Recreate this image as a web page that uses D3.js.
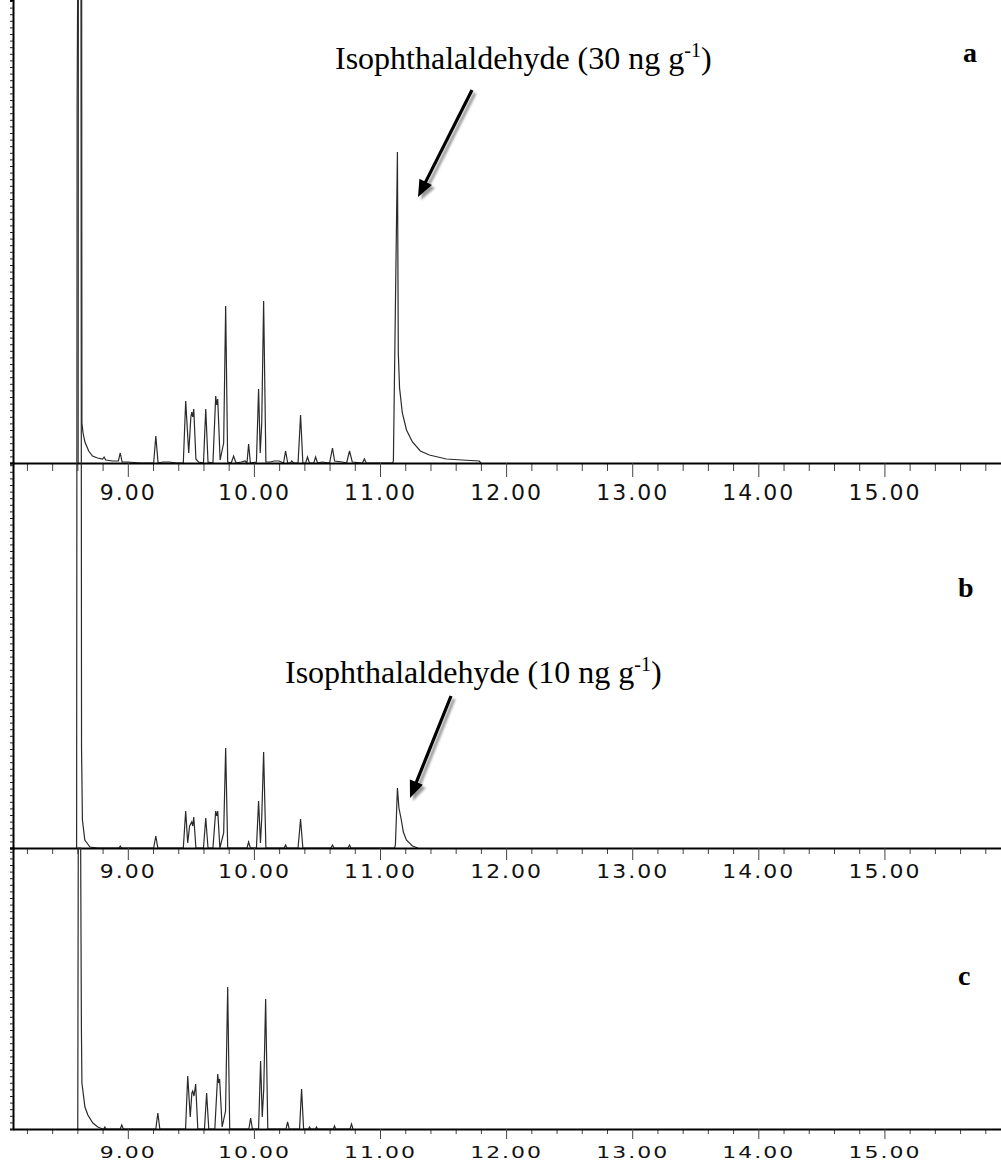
<!DOCTYPE html>
<html>
<head>
<meta charset="utf-8">
<script src="https://cdn.jsdelivr.net/npm/d3@7"></script>
<style>body{margin:0;background:#fff;}</style>
</head>
<body>
<script>
// chromatogram traces: [retention time (min), abundance (arbitrary units)]
var traceA = [[8.600,0],[8.606,0],[8.609,900],[8.632,900],[8.636,40],[8.645,30],[8.660,21],[8.690,12],[8.720,7],[8.760,5],[8.800,4],[8.812,6],[8.825,3],[8.880,2],[8.925,2],[8.940,10],[8.955,1],[9.000,1],[9.100,0],[9.205,0],[9.222,27],[9.240,0],[9.280,1],[9.330,1],[9.380,0],[9.440,0],[9.459,62],[9.483,10],[9.500,46],[9.507,51],[9.515,46],[9.523,54],[9.540,4],[9.560,1],[9.600,0],[9.618,54],[9.636,1],[9.675,0],[9.697,67],[9.705,58],[9.713,64],[9.732,3],[9.760,20],[9.776,157],[9.792,1],[9.820,0],[9.839,7],[9.858,0],[9.900,1],[9.930,2],[9.945,0],[9.958,19],[9.972,0],[10.020,1],[10.037,74],[10.050,10],[10.062,40],[10.077,162],[10.095,1],[10.130,1],[10.160,2],[10.200,2],[10.235,0],[10.251,12],[10.268,0],[10.290,0],[10.300,2],[10.315,0],[10.350,0],[10.370,48],[10.388,0],[10.410,0],[10.425,6],[10.440,0],[10.475,0],[10.489,6],[10.505,0],[10.540,1],[10.600,0],[10.623,15],[10.640,2],[10.700,1],[10.735,0],[10.758,12],[10.780,1],[10.860,0],[10.876,4],[10.890,0],[11.100,0],[11.106,2],[11.138,311],[11.145,110],[11.155,75],[11.177,50],[11.210,33],[11.257,21],[11.320,12],[11.391,8],[11.526,4],[11.650,3],[11.787,2],[11.800,0]];

var traceB = [[8.594,0],[8.598,741],[8.606,960],[8.628,960],[8.633,100],[8.640,28],[8.659,8],[8.700,1],[8.760,0],[8.930,0],[8.940,2],[8.950,0],[9.205,0],[9.222,12],[9.238,0],[9.440,0],[9.459,37],[9.475,5],[9.490,22],[9.507,26],[9.515,22],[9.523,31],[9.540,0],[9.600,0],[9.618,30],[9.636,0],[9.675,0],[9.697,37],[9.705,32],[9.713,37],[9.730,0],[9.760,15],[9.776,100],[9.792,0],[9.945,0],[9.958,6],[9.972,0],[10.020,0],[10.037,47],[10.052,5],[10.062,30],[10.077,96],[10.095,0],[10.240,0],[10.251,3],[10.262,0],[10.350,0],[10.370,29],[10.388,0],[10.610,0],[10.623,3],[10.635,0],[10.745,0],[10.758,3],[10.770,0],[11.115,0],[11.122,3],[11.138,60],[11.150,40],[11.169,28],[11.185,16],[11.209,8],[11.257,2],[11.300,0]];

var traceC = [[8.603,0],[8.607,281],[8.626,281],[8.632,100],[8.636,46],[8.660,22],[8.683,14],[8.723,6],[8.762,2],[8.800,0],[8.810,0],[8.818,2],[8.826,0],[8.940,0],[8.952,4],[8.964,0],[9.222,0],[9.238,16],[9.254,0],[9.458,0],[9.475,53],[9.495,12],[9.508,36],[9.515,38],[9.525,33],[9.538,45],[9.555,0],[9.608,0],[9.625,36],[9.642,0],[9.690,0],[9.713,55],[9.720,46],[9.728,50],[9.748,2],[9.775,18],[9.792,142],[9.808,0],[9.960,0],[9.974,11],[9.988,0],[10.037,0],[10.053,68],[10.066,12],[10.078,40],[10.093,130],[10.110,0],[10.255,0],[10.267,7],[10.280,0],[10.362,0],[10.378,40],[10.394,0],[10.433,0],[10.441,2],[10.449,0],[10.488,0],[10.496,2],[10.504,0],[10.630,0],[10.639,3],[10.648,0],[10.762,0],[10.774,5],[10.786,0]];

var majorTicks = [9, 10, 11, 12, 13, 14, 15];
var minorTicks = d3.range(41, 80).map(function(i) { return i / 5; })
  .filter(function(v) { return Math.abs(v - Math.round(v)) > 1e-6; });
var panelNames = ["a", "b", "c"];
var noteA = "Isophthalaldehyde (30 ng g";
var noteB = "Isophthalaldehyde (10 ng g";

var W = 1001, H = 1160;
var svg = d3.select("body").append("svg")
  .attr("width", W)
  .attr("height", H);

var defs = svg.append("defs");
defs.append("filter").attr("id", "blur")
  .append("feGaussianBlur").attr("stdDeviation", 1);

var x = d3.scaleLinear().domain([8.0895, 15.9245]).range([13, 1001]);

var panels = [
  { data: traceA, base: 463, top: 0, labY: 500, k: 1, nx: 963, ny: 62, major: 14, minor: 8 },
  { data: traceB, base: 848, top: 463, labY: 878, k: 0.9, nx: 958, ny: 597, major: 12, minor: 6 },
  { data: traceC, base: 1129, top: 848, labY: 1158, k: 0.7, nx: 958, ny: 985, major: 10, minor: 5 }
];

panels.forEach(function(p, i) {
  var y = d3.scaleLinear().domain([0, p.base - p.top]).range([p.base, p.top]);

  var line = d3.line()
    .x(function(d) { return x(d[0]); })
    .y(function(d) { return y(d[1]); });

  svg.append("path")
    .datum(p.data)
    .attr("d", line)
    .attr("fill", "none")
    .attr("stroke", "#2a2a2a")
    .attr("stroke-width", 1.2);

  // left axis with small ticks
  var yl = svg.append("g").attr("transform", "translate(13,0)")
    .call(d3.axisLeft(y).tickValues(d3.range(0, p.base - p.top, 6.6)).tickSize(3).tickFormat(""));
  yl.select(".domain").attr("stroke", "#000").attr("stroke-width", 2);
  yl.selectAll(".tick line").attr("stroke", "#222");

  // minor x ticks
  var xm = svg.append("g").attr("transform", "translate(0," + p.base + ")")
    .call(d3.axisBottom(x).tickValues(minorTicks).tickSize(p.minor).tickSizeOuter(0).tickFormat(""));
  xm.select(".domain").remove();
  xm.selectAll(".tick line").attr("stroke", "#444");

  // major x ticks + labels
  var xa = svg.append("g").attr("transform", "translate(0," + p.base + ")")
    .call(d3.axisBottom(x).tickValues(majorTicks).tickSize(p.major).tickSizeOuter(0).tickFormat(d3.format(".2f")));
  xa.select(".domain").attr("stroke", "#000").attr("stroke-width", 2);
  xa.selectAll(".tick line").attr("stroke", "#444");
  xa.selectAll("text")
    .attr("font-family", "DejaVu Sans, sans-serif")
    .attr("font-size", 22)
    .attr("letter-spacing", 2)
    .attr("fill", "#111")
    .attr("dy", 0)
    .attr("y", (p.labY - p.base) / p.k)
    .attr("transform", "scale(1," + p.k + ")");

  svg.append("text")
    .attr("x", p.nx)
    .attr("y", p.ny)
    .attr("font-family", "Liberation Serif, Times New Roman, serif")
    .attr("font-weight", "bold")
    .attr("font-size", 28)
    .text(panelNames[i]);
});

function note(txt, tx, ty) {
  var t = svg.append("text")
    .attr("x", tx).attr("y", ty)
    .attr("font-family", "Liberation Serif, Times New Roman, serif")
    .attr("font-size", 32)
    .attr("fill", "#000");
  t.append("tspan").text(txt);
  t.append("tspan").attr("font-size", 20).attr("dy", -12).text("-1");
  t.append("tspan").attr("dy", 12).text(")");
}

function arrow(x1, y1, x2, y2) {
  var dx = x2 - x1, dy = y2 - y1, len = Math.sqrt(dx * dx + dy * dy);
  var ux = dx / len, uy = dy / len;
  var L = 17, hw = 7;
  var bx = x2 - ux * L, by = y2 - uy * L;
  var px = -uy, py = ux;
  [[3, 3, "#9a9a9a", "url(#blur)"], [0, 0, "#000", null]].forEach(function(s) {
    var g = svg.append("g").attr("transform", "translate(" + s[0] + "," + s[1] + ")");
    if (s[3]) g.attr("filter", s[3]);
    g.append("line")
      .attr("x1", x1).attr("y1", y1).attr("x2", bx + ux * 2).attr("y2", by + uy * 2)
      .attr("stroke", s[2]).attr("stroke-width", 3.2);
    g.append("path")
      .attr("d", "M" + x2 + "," + y2 + "L" + (bx + px * hw) + "," + (by + py * hw) +
        "L" + (bx - px * hw) + "," + (by - py * hw) + "Z")
      .attr("fill", s[2]);
  });
}

note(noteA, 335, 69);
arrow(472, 90, 418, 197);
note(noteB, 285, 683);
arrow(451, 696, 410, 798);
</script>
</body>
</html>
